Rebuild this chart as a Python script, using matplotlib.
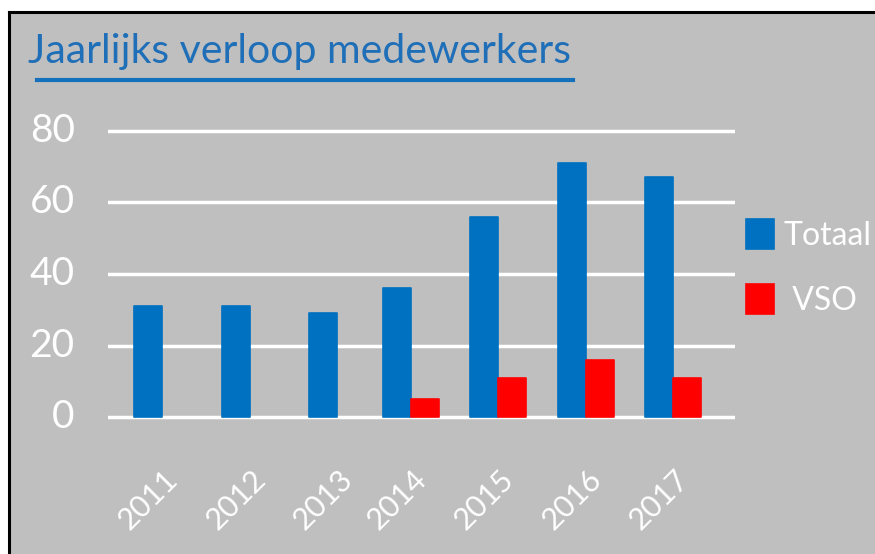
import numpy as np
import matplotlib.pyplot as plt
from matplotlib.patches import Rectangle, Patch
from matplotlib.lines import Line2D

# data
years = ["2011", "2012", "2013", "2014", "2015", "2016", "2017"]
totaal = [31, 31, 29, 36, 56, 71, 67]
vso = [0, 0, 0, 5, 11, 16, 11]
title = "Jaarlijks verloop medewerkers"

BLUE = "#0070C0"
RED = "#FF0000"
BG = "#BFBFBF"
TITLE_BLUE = "#1F6FB8"

plt.rcParams["font.family"] = ["Lato", "DejaVu Sans"]

W, H = 875, 554
fig = plt.figure(figsize=(W / 100, H / 100), dpi=100)
fig.patch.set_facecolor("white")

# grey slide panel with black top/left border
fig.patches.append(Rectangle((9 / W, 0), 1 - 9 / W, 1 - 12 / H,
                             transform=fig.transFigure, facecolor=BG,
                             edgecolor="none", zorder=-10))
fig.lines.append(Line2D([9 / W, 9 / W], [0, 1 - 12 / H], transform=fig.transFigure,
                        color="black", lw=2.2))
fig.lines.append(Line2D([9 / W, 1], [1 - 12 / H, 1 - 12 / H], transform=fig.transFigure,
                        color="black", lw=2.2))

# title + underline
fig.text(28 / W, 1 - 63 / H, title, color=TITLE_BLUE, fontsize=29.5,
         ha="left", va="baseline")
fig.lines.append(Line2D([37 / W, 573 / W], [1 - 80 / H, 1 - 80 / H],
                        transform=fig.transFigure, color="#1570BC", lw=3))

# axes
ax = fig.add_axes([108 / W, 1 - 420.6 / H, (735 - 108) / W, (420.6 - 127.4) / H])
ax.set_facecolor("none")
for s in ax.spines.values():
    s.set_visible(False)

x = np.arange(len(years))
w = 0.32
totaal = np.array(totaal)
vso = np.array(vso)
has_vso = vso > 0
blue_x = np.where(has_vso, x - w / 2, x)
red_x = x + w / 2

ax.bar(blue_x, totaal, width=w, color=BLUE, edgecolor=BLUE, lw=1.2,
       joinstyle="round", zorder=3, label="Totaal")
ax.bar(red_x[has_vso], vso[has_vso], width=w, color=RED, edgecolor=RED, lw=1.2,
       joinstyle="round", zorder=3, label="VSO")

ax.set_ylim(-1, 81)
ax.set_xlim(-0.46, 6.705)
ax.set_yticks([0, 20, 40, 60, 80])
ax.yaxis.grid(True, color="white", lw=2.5, zorder=1)
ax.tick_params(axis="y", length=0, pad=24, labelsize=28, labelcolor="white")
ax.set_yticklabels([0, 20, 40, 60, 80], va="center")

ax.set_xticks(blue_x)
ax.set_xticklabels(years, rotation=45, ha="center", color="white", fontsize=22)
ax.tick_params(axis="x", length=0, pad=32)

handles = [Patch(facecolor=BLUE, edgecolor=BLUE, lw=1.2, joinstyle="round"),
           Patch(facecolor=RED, edgecolor=RED, lw=1.2, joinstyle="round")]
fig.legend(handles, ["Totaal", " VSO"], loc="upper left",
           bbox_to_anchor=(746 / W, 1 - 219 / H), frameon=False,
           fontsize=23, labelcolor="white", handlelength=0.88, handleheight=1.05,
           handletextpad=0.3, labelspacing=1.05, borderpad=0, borderaxespad=0)

fig.savefig("out.png", dpi=100, facecolor=fig.get_facecolor())
